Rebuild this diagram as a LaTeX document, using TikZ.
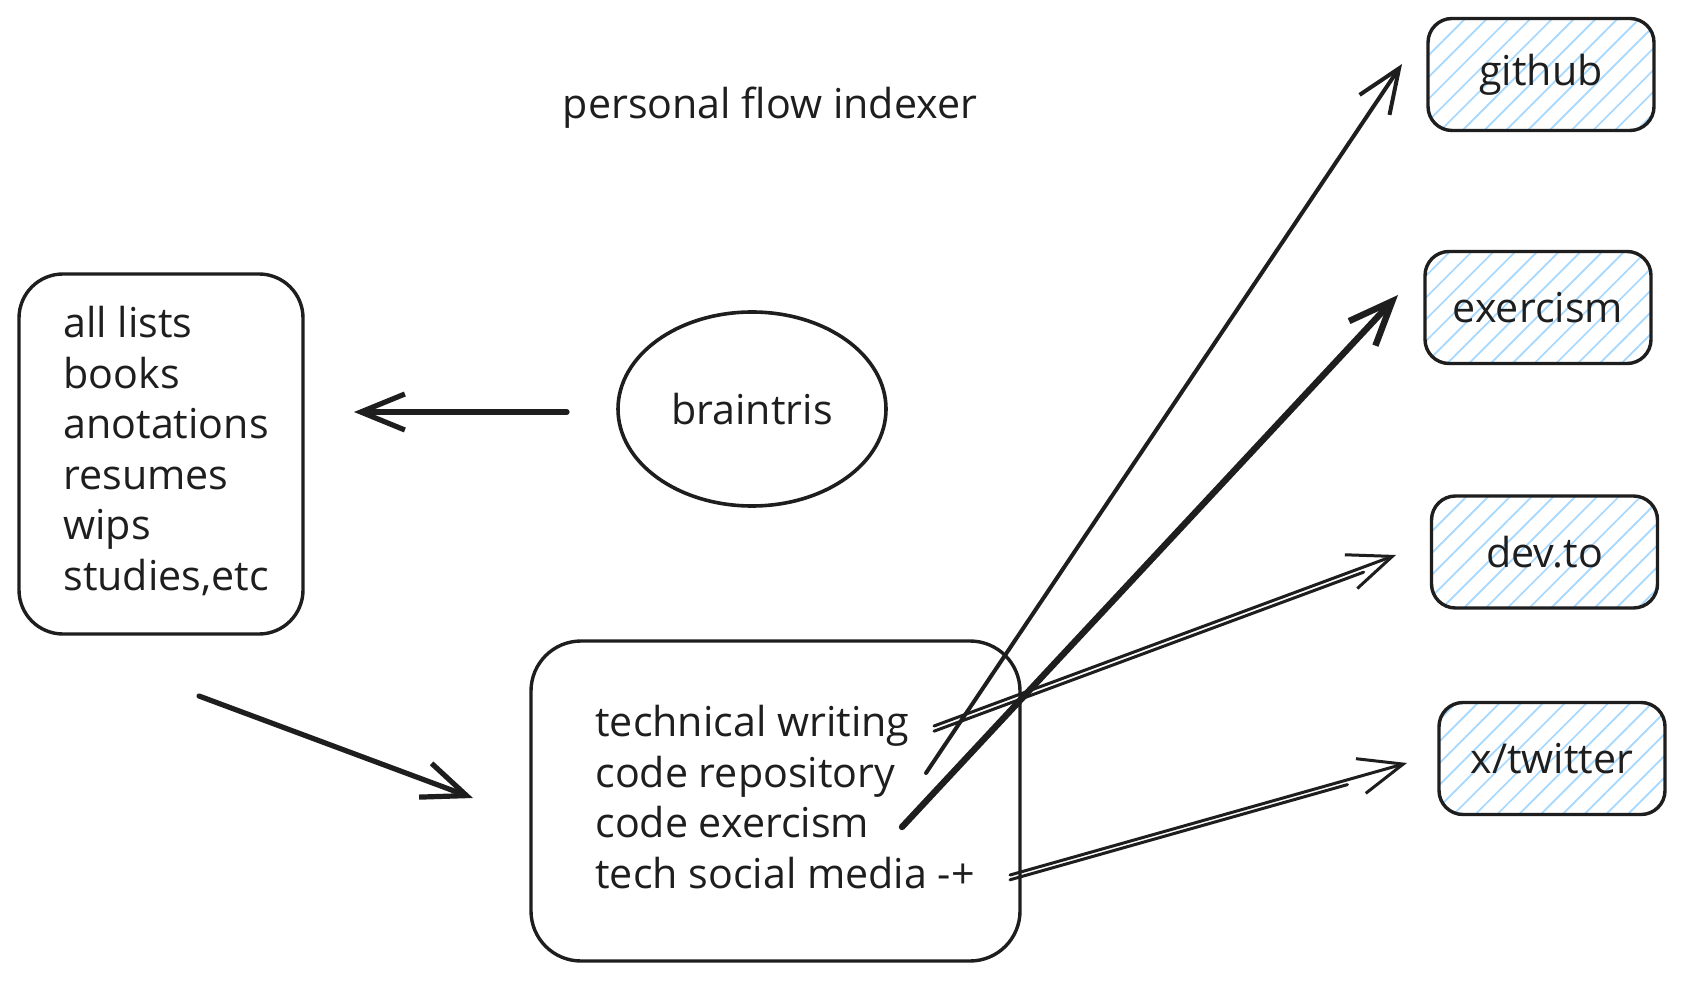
\documentclass[tikz,border=0pt]{standalone}
\usepackage{fontspec}
\setmainfont{Open Sans}
\usetikzlibrary{arrows.meta,shapes.geometric,patterns.meta,calc}
\definecolor{ink}{HTML}{1E1E1E}
\definecolor{hatch}{HTML}{A5D8FF}
\newcommand\hand{\fontsize{20.6}{25.25}\selectfont}
\begin{document}
\begin{tikzpicture}[x=0.5pt,y=-0.5pt,
  box/.style={draw=ink, line width=1.7pt, rounded corners=22pt},
  tgt/.style={draw=ink, line width=1.7pt, rounded corners=12pt,
    pattern={Lines[angle=45,distance=7.7pt,line width=0.85pt]}, pattern color=hatch,
    minimum width=113pt, minimum height=56pt, font=\hand, text=ink},
  txt/.style={font=\hand, text=ink, align=left, inner sep=0pt},
  tip/.style={-{Straight Barb[length=22pt,width=18pt]}},
  conn/.style={draw=ink, line width=2pt, tip, line cap=round},
  thickconn/.style={draw=ink, line width=3.2pt, tip, line cap=round},
  midconn/.style={draw=ink, line width=2.6pt, tip, line cap=round},
  dbl/.style={draw=ink, line width=1.5pt, line cap=round}
]
\useasboundingbox (0,0) rectangle (1684,983);
\fill[white] (0,0) rectangle (1684,983);

% title
\node[txt] (title) at (770,108) {personal flow indexer};

% left box
\node[box, minimum width=142pt, minimum height=180pt] (lists) at (161,454) {};
\node[txt, anchor=west] (liststxt) at (63,451) {all lists\\books\\anotations\\resumes\\wips\\studies,etc};

% braintris
\node[draw=ink, line width=1.8pt, ellipse, minimum width=134pt, minimum height=97pt, font=\hand, text=ink] (brain) at (752,409) {braintris};

% bottom box
\node[box, rounded corners=25pt, minimum width=244.5pt, minimum height=160pt] (work) at (775.5,801) {};
\node[txt, anchor=west] (worktxt) at (595,797) {technical writing\\code repository\\code exercism\\tech social media -+};

% targets
\node[tgt] (github) at (1541,74.5) {github};
\node[tgt] (exercism) at (1538,307.5) {exercism};
\node[tgt] (devto) at (1544.5,552) {dev.to};
\node[tgt] (twitter) at (1552,758.5) {x/twitter};

% connector end points
\coordinate (b1) at (567,412);
\coordinate (l1) at (354,412);
\coordinate (l2) at (199,696);
\coordinate (w1) at (473,798);
\coordinate (s-gh) at (926,773);
\coordinate (e-gh) at (1402,64);
\coordinate (s-ex) at (902,827);
\coordinate (e-ex) at (1398,295);
\coordinate (s-dv) at (934,726);
\coordinate (e-dv) at (1396,555);
\coordinate (s-tw) at (1010,875);
\coordinate (e-tw) at (1407,763);
\coordinate (m-dv) at ($(s-dv)!0.93!(e-dv)$);
\coordinate (m-tw) at ($(s-tw)!0.85!(e-tw)$);

% connectors
\draw[midconn] (b1) -- (l1);
\draw[midconn] (l2) -- (w1);
\draw[conn] (s-gh) -- (e-gh);
\draw[thickconn] (s-ex) -- (e-ex);
\draw[dbl, tip] (s-dv) -- (e-dv);
\draw[dbl] ([yshift=-2.6pt]s-dv) -- ([yshift=-2.6pt]m-dv);
\draw[dbl, tip] (s-tw) -- (e-tw);
\draw[dbl] ([yshift=-2.4pt]s-tw) -- ([yshift=-2.4pt]m-tw);
\end{tikzpicture}
\end{document}
